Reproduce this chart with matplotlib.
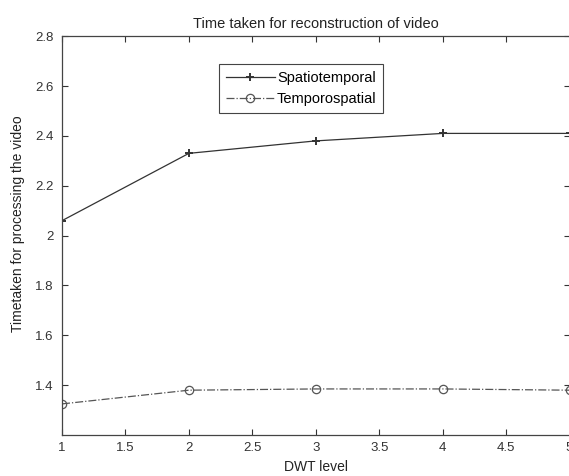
import matplotlib
matplotlib.use("Agg")
import matplotlib.pyplot as plt

plt.rcParams['font.family'] = ['Liberation Sans', 'DejaVu Sans']

dwt_level = [1, 2, 3, 4, 5]
spatiotemporal = [2.06, 2.33, 2.38, 2.41, 2.41]
temporospatial = [1.325, 1.38, 1.385, 1.385, 1.38]
xticks = [1, 1.5, 2, 2.5, 3, 3.5, 4, 4.5, 5]
yticks = [1.4, 1.6, 1.8, 2.0, 2.2, 2.4, 2.6, 2.8]
ytick_labels = ['1.4', '1.6', '1.8', '2', '2.2', '2.4', '2.6', '2.8']
xtick_labels = ['1', '1.5', '2', '2.5', '3', '3.5', '4', '4.5', '5']

fig = plt.figure(figsize=(5.69, 4.76), dpi=100)
ax = fig.add_axes([0.109, 0.086, 0.892, 0.838])

ax.plot(dwt_level, spatiotemporal, '-', color='#333333', lw=0.9,
        marker='+', ms=6, mew=1.4, label='Spatiotemporal')
ax.plot(dwt_level, temporospatial, '-.', color='#555555', lw=0.9,
        marker='o', ms=6, mfc='none', mew=0.9, label='Temporospatial')

ax.set_xlim(1, 5)
ax.set_ylim(1.2, 2.8)
ax.set_xticks(xticks)
ax.set_xticklabels(xtick_labels)
ax.set_yticks(yticks)
ax.set_yticklabels(ytick_labels)
ax.tick_params(direction='in', top=True, right=True, labelsize=9.5, length=4,
               width=0.8, colors='#333333')
ax.tick_params(axis='y', pad=6)
ax.tick_params(axis='x', pad=5)
for s in ax.spines.values():
    s.set_color('#444444')
    s.set_linewidth(0.9)

ax.set_title('Time taken for reconstruction of video', fontsize=10.5, color='#222222', pad=6)
ax.set_xlabel('DWT level', fontsize=10, color='#222222')
ax.xaxis.set_label_coords(0.5, -0.063)
ax.set_ylabel('Timetaken for processing the video', fontsize=10, color='#222222')
ax.yaxis.set_label_coords(-0.073, 0.53)

leg = ax.legend(loc='upper left', bbox_to_anchor=(0.309, 0.93), fontsize=10.5,
                fancybox=False, edgecolor='#444444', framealpha=1,
                handlelength=3.4, borderpad=0.46, labelspacing=0.5, handletextpad=0.12,
                borderaxespad=0)
leg.get_frame().set_linewidth(0.8)

fig.savefig('out.png', dpi=100)
